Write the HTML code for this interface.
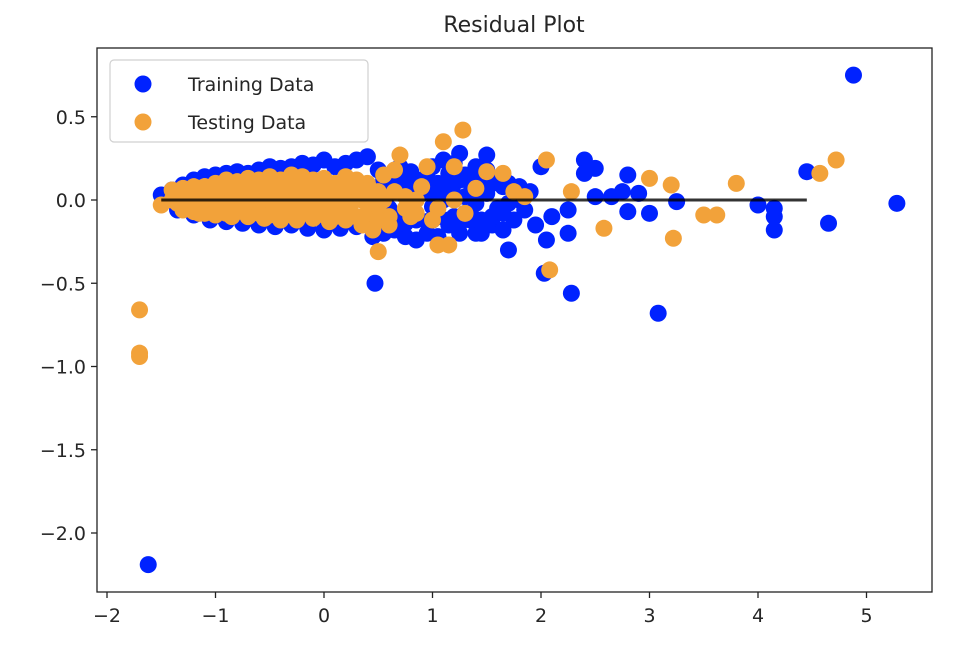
<!DOCTYPE html>
<html><head><meta charset="utf-8"><style>
body{margin:0;background:#fff;}
svg text{font-family:"DejaVu Sans","Liberation Sans",sans-serif;fill:#262626;}
</style></head><body>
<svg id="chart" width="972" height="660" viewBox="0 0 972 660" xmlns="http://www.w3.org/2000/svg">
<rect width="972" height="660" fill="#fff"/>
<text x="514" y="32" font-size="22" text-anchor="middle">Residual Plot</text>
<g id="marks"></g>
<g id="axes"></g>
<g>
<rect x="110" y="60" width="258" height="82" rx="4" fill="#fff" fill-opacity="0.8" stroke="#d0d0d0" stroke-width="1.2"/>
<circle cx="143" cy="84" r="8.5" fill="#0022ff"/>
<text x="188" y="91" font-size="19">Training Data</text>
<circle cx="143" cy="122" r="8.5" fill="#f2a23a"/>
<text x="188" y="129" font-size="19">Testing Data</text>
</g>
</svg>
<script>
const xTicks=[-2,-1,0,1,2,3,4,5];
const yTicks=[0.5,0.0,-0.5,-1.0,-1.5,-2.0];
const yTickLabels=["0.5","0.0","\u22120.5","\u22121.0","\u22121.5","\u22122.0"];
const xTickLabels=["\u22122","\u22121","0","1","2","3","4","5"];
const trainX=[-1.62,4.88,5.28,4.65,4.45,4.15,4.15,4.15,4.0,3.08,2.28,2.03,0.47,3.25,3.0,2.8,2.8,2.5,2.4,2.4,2.5,2.65,2.75,2.9,2.25,2.25,2.05,2.1,2.0,1.95,1.7,1.5,1.25,1.4,
-1.5,-1.4,-1.3,-1.2,-1.1,-1.0,-0.9,-0.8,-0.7,-0.6,-0.5,-0.4,-0.3,-0.2,-0.1,0.0,0.1,0.2,0.3,0.4,
-1.35,-1.2,-1.05,-0.9,-0.75,-0.6,-0.45,-0.3,-0.15,0.0,0.15,0.3,0.45,
0.5,0.6,0.7,0.8,0.9,1.0,1.1,1.2,1.3,1.4,1.5,1.6,1.7,1.8,1.9,
0.55,0.65,0.75,0.85,0.95,1.05,1.15,1.25,1.35,1.45,1.55,1.65,1.75,1.85,
0.5,0.6,0.7,0.8,0.9,1.0,1.1,1.2,1.3,1.4,1.5,1.6,
0.6,0.8,1.0,1.2,1.4,1.6,1.8,0.7,0.9,1.1,1.3,1.5,1.7,
0.55,0.65,0.75,0.85,0.95,1.05,1.15,1.25,1.35,1.45,1.55,1.65,1.75,
0.55,0.65,0.75,0.85,0.95,1.05,1.15,1.25,1.35,1.45,1.55,1.65,
0.6,0.8,1.0,1.2,1.4];
const trainY=[-2.19,0.75,-0.02,-0.14,0.17,-0.18,-0.1,-0.05,-0.03,-0.68,-0.56,-0.44,-0.5,-0.01,-0.08,-0.07,0.15,0.19,0.24,0.16,0.02,0.02,0.05,0.04,-0.06,-0.2,-0.24,-0.1,0.2,-0.15,-0.3,0.27,0.28,-0.2,
0.03,0.06,0.09,0.12,0.14,0.15,0.16,0.17,0.16,0.18,0.2,0.19,0.2,0.22,0.21,0.24,0.2,0.22,0.24,0.26,
-0.06,-0.09,-0.12,-0.13,-0.14,-0.15,-0.16,-0.15,-0.17,-0.18,-0.17,-0.16,-0.22,
0.18,0.15,0.2,0.17,0.12,0.2,0.24,0.22,0.15,0.2,0.18,0.12,0.1,0.08,0.05,
-0.2,-0.18,-0.22,-0.24,-0.2,-0.22,-0.15,-0.2,-0.12,-0.2,-0.15,-0.18,-0.12,-0.06,
0.05,-0.05,0.08,-0.08,0.04,-0.04,0.06,-0.1,0.02,-0.02,0.06,-0.08,
0.1,0.0,-0.12,0.1,0.12,-0.05,0.0,-0.14,0.08,0.0,-0.08,0.04,-0.02,
0.12,0.1,0.13,0.11,0.14,0.1,0.16,0.12,0.1,0.13,0.1,0.08,0.06,
-0.12,-0.1,-0.14,-0.12,-0.13,-0.1,-0.12,-0.14,-0.08,-0.12,-0.1,-0.08,
0.04,0.05,0.04,0.03,0.03];
const testX=[-1.7,-1.7,-1.7,4.72,4.57,3.8,3.62,3.5,3.22,3.2,3.0,2.58,2.28,2.08,2.05,1.28,1.1,0.7,0.5,1.2,1.15,1.05,1.5,1.65,1.4,1.75,1.85,1.3,0.65,
-1.5,-1.4,-1.3,-1.2,-1.1,-1.0,-0.9,-0.8,-0.7,-0.6,-0.5,-0.4,-0.3,-0.2,-0.1,0.0,0.1,0.2,0.3,0.4,
-1.35,-1.25,-1.15,-1.05,-0.95,-0.85,-0.75,-0.65,-0.55,-0.45,-0.35,-0.25,-0.15,-0.05,0.05,0.15,0.25,0.35,
-1.3,-1.15,-1.0,-0.85,-0.7,-0.55,-0.4,-0.25,-0.1,0.05,0.2,0.35,0.45,
0.5,0.6,0.75,0.85,0.95,1.05,1.2,0.55,0.8,0.9,1.0,0.3,0.4,
-1.4,-1.3,-1.2,-1.1,-1.0,-0.9,-0.8,-0.7,-0.6,-0.5,-0.4,-0.3,-0.2,-0.1,0.0,0.1,0.2,0.3,0.4,
-1.35,-1.25,-1.15,-1.05,-0.95,-0.85,-0.75,-0.65,-0.55,-0.45,-0.35,-0.25,-0.15,-0.05,0.05,0.15,0.25,0.35,0.45,
-1.2,-1.1,-1.0,-0.9,-0.8,-0.7,-0.6,-0.5,-0.4,-0.3,-0.2,-0.1,0.0,0.1,0.2,0.3,0.4,0.5,
0.55,0.65,0.75,0.85,0.5,0.6];
const testY=[-0.66,-0.92,-0.94,0.24,0.16,0.1,-0.09,-0.09,-0.23,0.09,0.13,-0.17,0.05,-0.42,0.24,0.42,0.35,0.27,-0.31,0.2,-0.27,-0.27,0.17,0.16,0.07,0.05,0.02,-0.08,0.18,
-0.03,0.0,0.03,0.05,0.08,0.1,0.12,0.11,0.13,0.12,0.14,0.12,0.15,0.14,0.12,0.13,0.1,0.14,0.12,0.1,
0.0,-0.03,0.02,-0.05,0.04,-0.06,0.03,-0.05,0.02,-0.07,0.04,-0.06,0.03,-0.08,0.02,-0.07,0.03,-0.1,
-0.06,-0.08,-0.09,-0.1,-0.1,-0.11,-0.12,-0.12,-0.11,-0.13,-0.12,-0.15,-0.18,
0.05,-0.1,-0.05,-0.08,0.2,-0.05,0.0,0.15,-0.1,0.08,-0.12,0.06,-0.14,
0.06,0.07,0.08,0.08,0.09,0.08,0.09,0.08,0.09,0.08,0.09,0.08,0.09,0.08,0.09,0.08,0.07,0.08,0.06,
-0.02,0.0,-0.03,0.0,-0.02,0.0,-0.02,0.0,-0.03,0.0,-0.02,0.0,-0.03,0.0,-0.03,0.0,-0.02,0.0,-0.03,
-0.07,-0.08,-0.06,-0.08,-0.07,-0.09,-0.08,-0.09,-0.07,-0.09,-0.08,-0.09,-0.09,-0.1,-0.09,-0.1,-0.08,-0.04,
0.0,0.05,0.02,0.0,-0.12,-0.15];
const fitX=[-1.5,4.45];
const fitY=[0.0,0.0];

const L=97,R=932,T=48,B=592;
const sx=v=>324+108.5*v;
const sy=v=>200-166.5*v;
const NS='http://www.w3.org/2000/svg';
const marks=document.getElementById('marks');
const axes=document.getElementById('axes');
function mk(tag,attrs,parent){const e=document.createElementNS(NS,tag);for(const k in attrs)e.setAttribute(k,attrs[k]);parent.appendChild(e);return e;}
for(let i=0;i<trainX.length;i++){
 const c=mk('circle',{cx:sx(trainX[i]),cy:sy(trainY[i]),r:8.5,fill:'#0022ff'},marks);
 
 
}
for(let i=0;i<testX.length;i++){
 const c=mk('circle',{cx:sx(testX[i]),cy:sy(testY[i]),r:8.5,fill:'#f2a23a'},marks);
 
 
}
const ln=mk('line',{x1:sx(fitX[0]),y1:sy(fitY[0]),x2:sx(fitX[1]),y2:sy(fitY[1]),stroke:'#000','stroke-width':3,'stroke-opacity':0.8},marks);


const fr=mk('rect',{x:L,y:T,width:R-L,height:B-T,fill:'none',stroke:'#222','stroke-width':1.3},axes);


xTicks.forEach((v,i)=>{
 mk('line',{x1:sx(v),y1:B,x2:sx(v),y2:B+6,stroke:'#222','stroke-width':1.3},axes);
 const t=mk('text',{x:sx(v),y:B+30,'font-size':19,'text-anchor':'middle'},axes);
 t.textContent=xTickLabels[i];
 
 
});
yTicks.forEach((v,i)=>{
 mk('line',{x1:L-6,y1:sy(v),x2:L,y2:sy(v),stroke:'#222','stroke-width':1.3},axes);
 const t=mk('text',{x:L-11,y:sy(v)+7,'font-size':19,'text-anchor':'end'},axes);
 t.textContent=yTickLabels[i];
 
 
});
</script>
</body></html>
